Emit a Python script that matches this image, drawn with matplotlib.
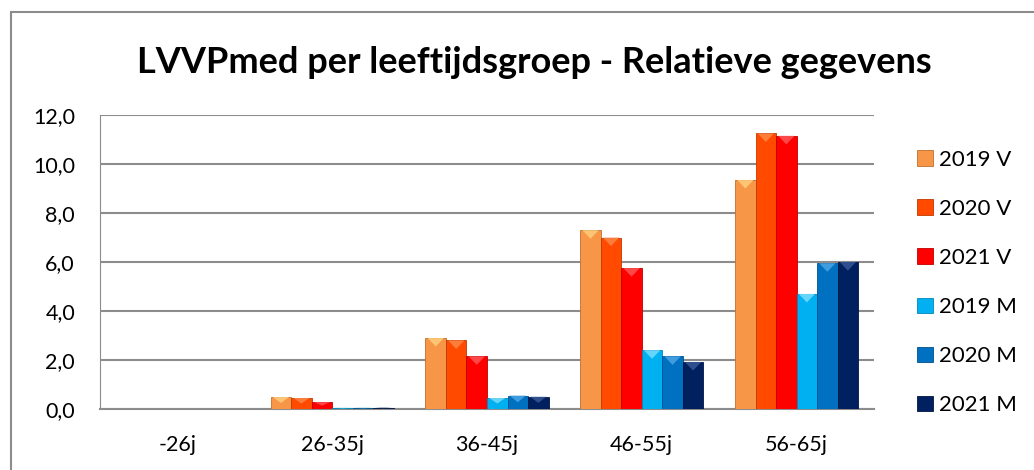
import numpy as np
import matplotlib
matplotlib.use("Agg")
import matplotlib.pyplot as plt
from matplotlib.patches import Rectangle, Polygon

# Data.
categories = ["-26j", "26-35j", "36-45j", "46-55j", "56-65j"]
series_names = ["2019 V", "2020 V", "2021 V", "2019 M", "2020 M", "2021 M"]
v2019 = [0.0, 0.49, 2.90, 7.30, 9.35]
v2020 = [0.0, 0.45, 2.80, 7.00, 11.25]
v2021 = [0.0, 0.28, 2.15, 5.75, 11.15]
m2019 = [0.0, 0.05, 0.45, 2.40, 4.70]
m2020 = [0.0, 0.05, 0.55, 2.15, 5.95]
m2021 = [0.0, 0.06, 0.50, 1.92, 6.00]
yticks = [0, 2, 4, 6, 8, 10, 12]

series = [v2019, v2020, v2021, m2019, m2020, m2021]
colors = ["#F79646", "#FF4A00", "#FF0000", "#00B0F0", "#0070C0", "#002060"]
edges = ["#C0702E", "#C03800", "#C00000", "#0088BB", "#005090", "#001540"]
tops = ["#FFD27F", "#FF8A4A", "#FF5A5A", "#7FE0FF", "#4FA8E8", "#3A5A9A"]

plt.rcParams["font.family"] = ["Lato", "DejaVu Sans"]

fig = plt.figure(figsize=(10.34, 4.70), dpi=100)
fig.patches.append(Rectangle((11 / 1034, -0.1), 1.2, 1.1 - 12 / 470,
                             transform=fig.transFigure, fill=False,
                             edgecolor="#8C8C8C", linewidth=1.5))

ax = fig.add_axes([100 / 1034, 1 - 409 / 470, 774 / 1034, 294 / 470])

x = np.arange(len(categories))
n = len(series)
w = 0.1325
for i, (vals, name) in enumerate(zip(series, series_names)):
    pos = x + (i - (n - 1) / 2) * w
    bars = ax.bar(pos, vals, w, color=colors[i], edgecolor=edges[i],
                  linewidth=0.6, label=name, zorder=3)
    # small bevel triangle at the top of each bar
    for b in bars:
        h = b.get_height()
        if h <= 0.02:
            continue
        bx, bw = b.get_x(), b.get_width()
        th = min(0.35, h * 0.5)
        tri = Polygon([(bx + 0.1 * bw, h), (bx + 0.9 * bw, h), (bx + 0.5 * bw, h - th)],
                      closed=True, facecolor=tops[i], edgecolor="none", alpha=0.8, zorder=4)
        ax.add_patch(tri)

ax.set_xlim(-0.5, len(categories) - 0.5)
ax.set_ylim(0, 12)
ax.set_yticks(yticks)
ax.set_yticklabels([f"{t:.1f}".replace(".", ",") for t in yticks], fontsize=15.5)
ax.set_xticks(x)
ax.set_xticklabels(categories, fontsize=15.5)
ax.tick_params(axis="both", length=0)
ax.tick_params(axis="y", pad=18)
ax.tick_params(axis="x", pad=19)
ax.yaxis.grid(True, color="#8C8C8C", linewidth=1.5, zorder=0)
ax.set_axisbelow(True)
for s in ["top", "right"]:
    ax.spines[s].set_visible(False)
ax.spines["left"].set_color("#8C8C8C")
ax.spines["bottom"].set_color("#8C8C8C")
ax.spines["bottom"].set_linewidth(1.5)

fig.text(534 / 1034, 1 - 73 / 470, "LVVPmed per leeftijdsgroep - Relatieve gegevens",
         ha="center", va="baseline", fontsize=26, fontweight="bold")

ax.legend(loc="upper left", bbox_to_anchor=(1.044, 0.912), frameon=False,
          fontsize=16, handlelength=0.7, handleheight=0.7, handletextpad=0.27,
          labelspacing=1.31, borderaxespad=0)

fig.savefig("out.png", dpi=100)
